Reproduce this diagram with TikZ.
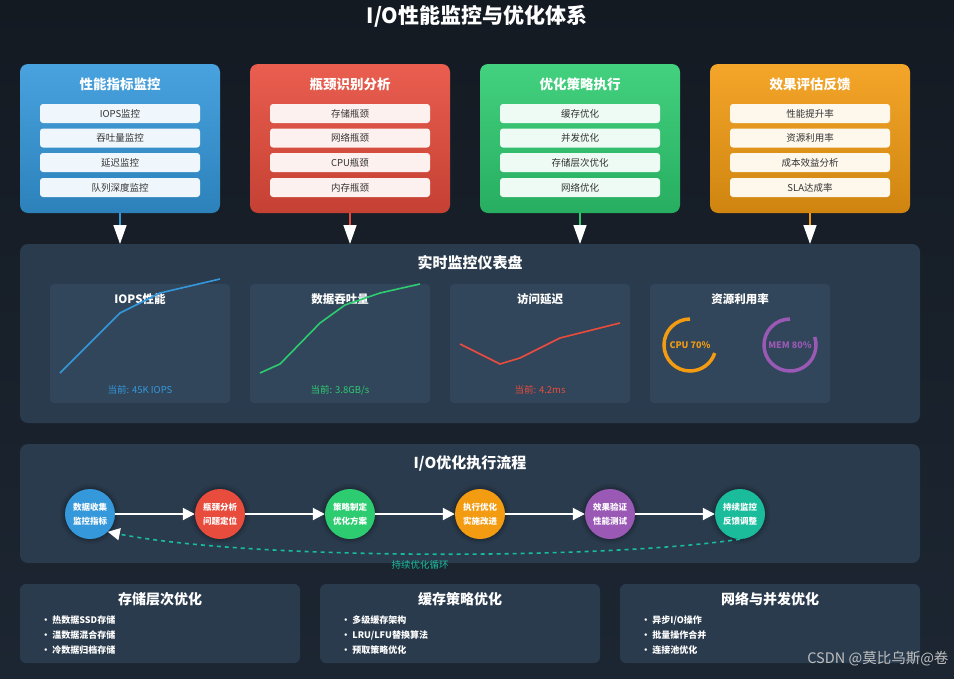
\documentclass[tikz,border=0pt]{standalone}
\usepackage{fontspec}
\setmainfont{Noto Sans CJK SC}
\usetikzlibrary{arrows.meta,shadows.blur}
\definecolor{bgA}{HTML}{141A22}
\definecolor{bgB}{HTML}{1C2632}
\definecolor{panel}{HTML}{2A3B4D}
\definecolor{inner}{HTML}{31465A}
\definecolor{cblue}{HTML}{3498DB}
\definecolor{cred}{HTML}{E74C3C}
\definecolor{cgreen}{HTML}{2ECC71}
\definecolor{corange}{HTML}{F39C12}
\definecolor{cpurple}{HTML}{9B59B6}
\definecolor{cteal}{HTML}{1ABC9C}
\tikzset{
 card/.style={rounded corners=8pt, minimum width=200pt, minimum height=149pt, draw=none},
 cardtitle/.style={text=white, font=\bfseries\fontsize{13.5}{15}\selectfont},
 item/.style={rounded corners=3pt, minimum width=160pt, minimum height=19pt, text=black!80, font=\fontsize{9.5}{10}\selectfont},
 bigpanel/.style={fill=panel, rounded corners=8pt, minimum width=900pt},
 innerp/.style={fill=inner, rounded corners=4pt, minimum width=180pt, minimum height=119pt},
 ptitle/.style={text=white, font=\bfseries\fontsize{15}{16}\selectfont},
 stitle/.style={text=white, font=\bfseries\fontsize{11.5}{13}\selectfont},
 val/.style={font=\fontsize{9.5}{10}\selectfont},
 step node/.style={circle, minimum size=50pt, inner sep=0pt, text=white, align=center, font=\bfseries\fontsize{8.5}{14}\selectfont},
 flowarr/.style={white, line width=2pt, -{Triangle[length=12pt,width=12pt]}},
 downarr/.style={-{Triangle[length=19pt,width=13pt,fill=white,color=white]}, line width=1.5pt},
 bottomcard/.style={fill=panel, rounded corners=6pt, minimum height=79pt},
 bullet/.style={text=white, anchor=west, font=\bfseries\fontsize{9}{10}\selectfont}
}
\begin{document}
\begin{tikzpicture}[x=1pt,y=-1pt]
\useasboundingbox (0,0) rectangle (954,678);
\shade[top color=bgA, bottom color=bgB] (0,0) rectangle (954,678);
\node[text=white, font=\bfseries\fontsize{21}{24}\selectfont] (title) at (477,16) {I/O性能监控与优化体系};
% top cards
\foreach \cx/\col/\ttl/\a/\b/\c/\d/\nm in {120/cblue/性能指标监控/IOPS监控/吞吐量监控/延迟监控/队列深度监控/c1, 350/cred/瓶颈识别分析/存储瓶颈/网络瓶颈/CPU瓶颈/内存瓶颈/c2, 580/cgreen/优化策略执行/缓存优化/并发优化/存储层次优化/网络优化/c3, 810/corange/效果评估反馈/性能提升率/资源利用率/成本效益分析/SLA达成率/c4}{
 \node[card, top color=\col!90!white, bottom color=\col!85!black] (\nm) at (\cx,138.5) {};
 \node[cardtitle] (\nm t) at (\cx,84) {\ttl};
 \node[item, fill=\col!8!white] (\nm a) at (\cx,113.5) {\a};
 \node[item, fill=\col!8!white] (\nm b) at (\cx,138) {\b};
 \node[item, fill=\col!8!white] (\nm c) at (\cx,162.5) {\c};
 \node[item, fill=\col!8!white] (\nm d) at (\cx,187.5) {\d};
 \coordinate (\nm e) at (\cx,244);
 \draw[downarr, \col] (\nm.south) -- (\nm e);
}
% dashboard
\node[bigpanel, minimum height=179pt] (dash) at (470,333.5) {};
\node[ptitle] (dasht) at (470,263) {实时监控仪表盘};
\foreach \cx/\nm/\ttl in {140/p1/IOPS性能, 340/p2/数据吞吐量, 540/p3/访问延迟, 740/p4/资源利用率}{
 \node[innerp] (\nm) at (\cx,343.5) {};
 \node[stitle] (\nm t) at (\cx,299) {\ttl};
}
\draw[cblue, line width=1.6pt] (60,373) -- (120,313) -- (160,293) -- (220,279);
\draw[cgreen, line width=1.6pt] (260,373) -- (280,364) -- (320,323) -- (345,305) -- (380,293) -- (420,284);
\draw[cred, line width=1.6pt] (460,344) -- (500,364) -- (520,358) -- (560,338) -- (620,323);
\node[val, text=cblue] (v1) at (140,390) {当前: 45K IOPS};
\node[val, text=cgreen] (v2) at (340,390) {当前: 3.8GB/s};
\node[val, text=cred] (v3) at (540,390) {当前: 4.2ms};
\draw[corange, line width=3.5pt] (690,319) arc[start angle=-90, end angle=-342, radius=26];
\draw[cpurple, line width=3.5pt] (790,319) arc[start angle=-90, end angle=-378, radius=26];
\node[font=\bfseries\fontsize{9}{10}\selectfont, text=corange] (cpu) at (690,345) {CPU 70\%};
\node[font=\bfseries\fontsize{9}{10}\selectfont, text=cpurple] (mem) at (790,345) {MEM 80\%};
% flow
\node[bigpanel, minimum height=119pt] (flow) at (470,503.5) {};
\node[ptitle] (flowt) at (470,463) {I/O优化执行流程};
\foreach \cx/\col/\a/\b/\nm in {90/cblue/数据收集/监控指标/s1, 220/cred/瓶颈分析/问题定位/s2, 350/cgreen/策略制定/优化方案/s3, 480/corange/执行优化/实施改进/s4, 610/cpurple/效果验证/性能测试/s5, 740/cteal/持续监控/反馈调整/s6}{
 \node[step node, fill=\col, blur shadow={shadow xshift=0pt, shadow yshift=0pt, shadow blur radius=5pt, shadow opacity=60, fill=\col}] (\nm) at (\cx,514) {\a\\\b};
}
\foreach \p/\q in {s1/s2, s2/s3, s3/s4, s4/s5, s5/s6}{\draw[flowarr] (\p) -- (\q);}
\draw[cteal, line width=1.6pt, dash pattern=on 4pt off 4pt, -{Triangle[length=12pt,width=12pt,fill=white,color=white]}]
 (s6.south) .. controls (600,560) and (250,560) .. (s1.south east);
\node[text=cteal, font=\fontsize{9.5}{10}\selectfont] (loop) at (420,565) {持续优化循环};
% bottom cards
\foreach \cx/\w/\ttl/\a/\b/\c/\nm in {160/280/存储层次优化/热数据SSD存储/温数据混合存储/冷数据归档存储/b1, 460/280/缓存策略优化/多级缓存架构/{LRU/LFU替换算法}/预取策略优化/b2, 770/300/网络与并发优化/{异步I/O操作}/批量操作合并/连接池优化/b3}{
 \node[bottomcard, minimum width=\w pt] (\nm) at (\cx,623.5) {};
 \node[stitle, font=\bfseries\fontsize{14}{15}\selectfont] (\nm t) at (\cx,599) {\ttl};
 \node[bullet] (\nm a) at (\nm.west) [xshift=18pt, yshift=3.5pt] {• \a};
 \node[bullet] (\nm b) at (\nm.west) [xshift=18pt, yshift=-11.5pt] {• \b};
 \node[bullet] (\nm c) at (\nm.west) [xshift=18pt, yshift=-26.5pt] {• \c};
}
\node[text=white!75!black, font=\fontsize{14.5}{16}\selectfont, anchor=east] (wm) at (952,659) {CSDN @莫比乌斯@卷};
\end{tikzpicture}
\end{document}
